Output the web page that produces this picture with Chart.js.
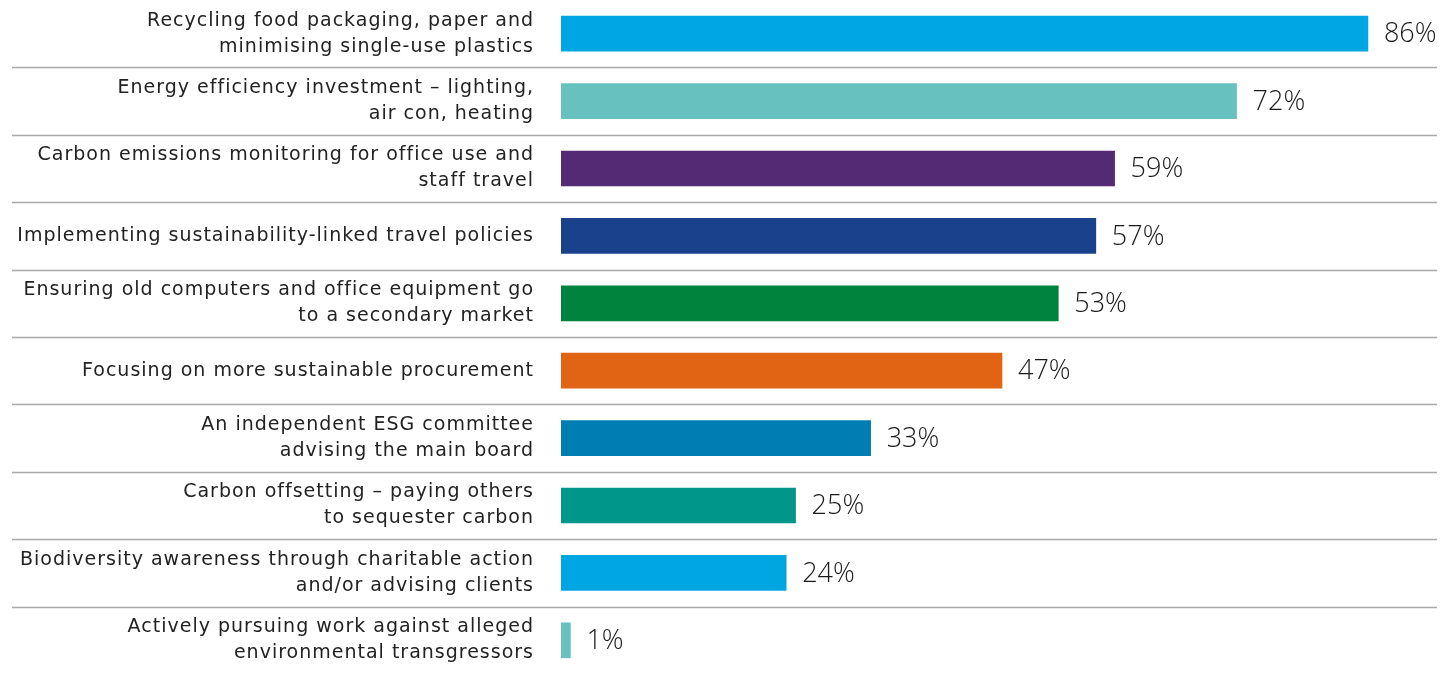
<!DOCTYPE html>
<html>
<head>
<meta charset="utf-8">
<title>Sustainability initiatives</title>
<script src="https://cdn.jsdelivr.net/npm/chart.js@4"></script>
<style>
  html, body { margin: 0; padding: 0; background: #fff; }
  #wrap { width: 1443px; height: 674px; position: relative; }
</style>
</head>
<body>
<div id="wrap"><canvas id="chart"></canvas></div>
<script>
const categories = [
  ['Recycling food packaging, paper and', 'minimising single-use plastics'],
  ['Energy efficiency investment \u2013 lighting,', 'air con, heating'],
  ['Carbon emissions monitoring for office use and', 'staff travel'],
  ['Implementing sustainability-linked travel policies'],
  ['Ensuring old computers and office equipment go', 'to a secondary market'],
  ['Focusing on more sustainable procurement'],
  ['An independent ESG committee', 'advising the main board'],
  ['Carbon offsetting \u2013 paying others', 'to sequester carbon'],
  ['Biodiversity awareness through charitable action', 'and/or advising clients'],
  ['Actively pursuing work against alleged', 'environmental transgressors']
];
const shares = [86, 72, 59, 57, 53, 47, 33, 25, 24, 1];
const barColors = [
  '#00A6E2', '#67C1BF', '#532A73', '#1A418B', '#00843D',
  '#E06414', '#007DB3', '#00978A', '#00A6E2', '#67C1BF'
];

// wider tracking for the category labels
const labelTracking = {
  id: 'labelTracking',
  beforeDraw(chart) { chart.ctx.letterSpacing = '1px'; },
  afterDraw(chart) { chart.ctx.letterSpacing = '0px'; }
};

// thin rules between the rows, running under the labels too
const rowRules = {
  id: 'rowRules',
  beforeDatasetsDraw(chart) {
    const y = chart.scales.y;
    const ctx = chart.ctx;
    ctx.save();
    ctx.strokeStyle = '#a9a9a9';
    ctx.lineWidth = 1.5;
    for (let i = 0; i < categories.length - 1; i++) {
      const yy = Math.round((y.getPixelForValue(i) + y.getPixelForValue(i + 1)) / 2) + 0.5;
      ctx.beginPath();
      ctx.moveTo(12, yy);
      ctx.lineTo(1437, yy);
      ctx.stroke();
    }
    ctx.restore();
  }
};

// percentage next to the end of each bar
const valueLabels = {
  id: 'valueLabels',
  afterDatasetsDraw(chart) {
    const ctx = chart.ctx;
    const meta = chart.getDatasetMeta(0);
    ctx.save();
    ctx.letterSpacing = '0px';
    ctx.font = '300 27px "Open Sans", sans-serif';
    ctx.fillStyle = '#1a1a1a';
    ctx.textAlign = 'left';
    ctx.textBaseline = 'middle';
    meta.data.forEach((bar, i) => {
      ctx.fillText(shares[i] + '%', bar.x + 16, bar.y + 1);
    });
    ctx.restore();
  }
};

new Chart(document.getElementById('chart'), {
  type: 'bar',
  data: {
    labels: categories,
    datasets: [{
      data: shares,
      backgroundColor: barColors,
      barThickness: 35,
      borderWidth: 0
    }]
  },
  options: {
    indexAxis: 'y',
    responsive: true,
    maintainAspectRatio: false,
    animation: false,
    layout: { padding: { top: -2, bottom: -4 } },
    plugins: {
      legend: { display: false },
      tooltip: { enabled: false }
    },
    scales: {
      x: {
        display: false,
        min: 0,
        max: 94
      },
      y: {
        afterFit(scale) {
          scale.width = 561;
          scale.paddingTop = 0;
          scale.paddingBottom = 0;
        },
        border: { display: false },
        grid: { display: false, drawTicks: false },
        ticks: {
          padding: 27,
          color: '#222',
          font: { family: '"DejaVu Sans", sans-serif', size: 19, lineHeight: 1.37 }
        }
      }
    }
  },
  plugins: [labelTracking, rowRules, valueLabels]
});
</script>
</body>
</html>
